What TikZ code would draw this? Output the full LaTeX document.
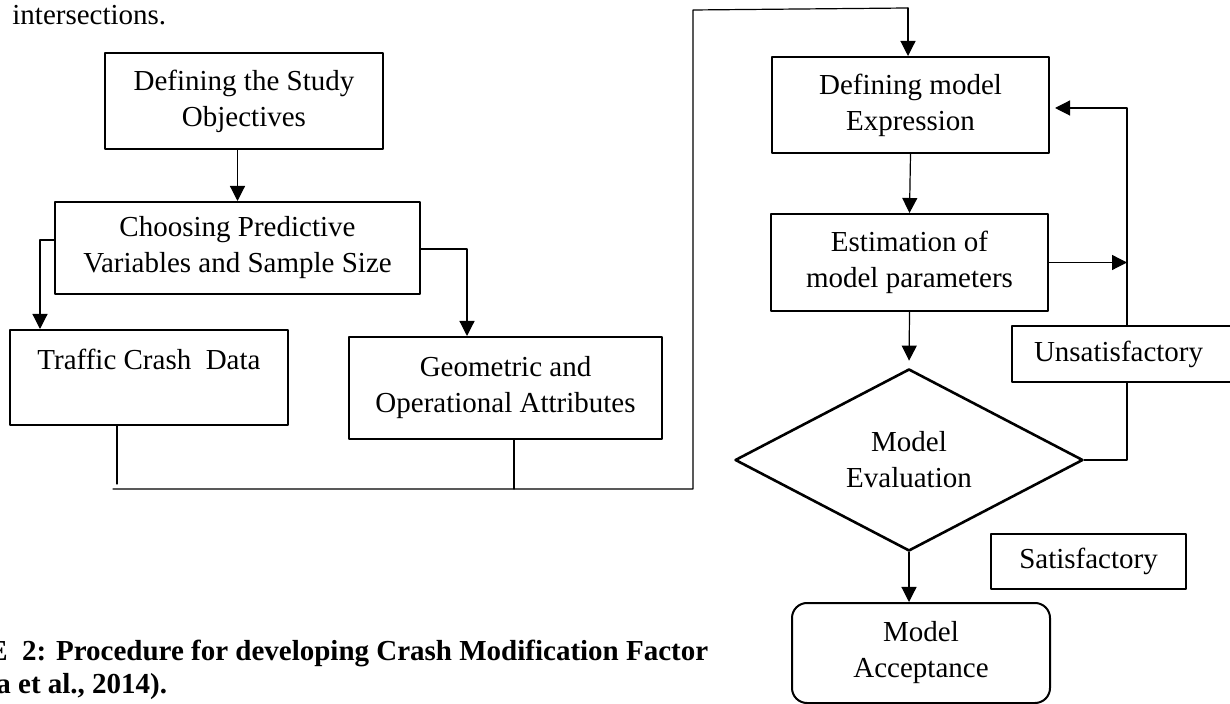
\documentclass[tikz,border=0pt]{standalone}
\usepackage{fontspec}
\setmainfont{Liberation Serif}
\usetikzlibrary{shapes.geometric,arrows.meta}

\begin{document}
\begin{tikzpicture}[x=0.5pt,y=-0.5pt,line cap=round,line join=round,
  every node/.style={inner sep=0pt,font=\fontsize{14.5pt}{18pt}\selectfont},
  stepbox/.style={draw,line width=1pt,align=center},
  link/.style={line width=0.6pt},
  arr/.style={link,-{Triangle[length=7.5pt,width=7.5pt]}},
  captext/.style={anchor=base west,font=\fontsize{14.5pt}{16.5pt}\selectfont\bfseries}]
  \useasboundingbox (0,0) rectangle (1230,704);
  \clip (0,0) rectangle (1230,704);
  \node[anchor=base west] (intro) at (12,25) {intersections.};
  % left column
  \node[stepbox,minimum width=139pt,minimum height=48pt] (obj) at (244,101) {Defining the Study\\Objectives};
  \node[stepbox,minimum width=182.5pt,minimum height=46pt] (choose) at (237.5,248) {Choosing Predictive\\Variables and Sample Size};
  \node[stepbox,minimum width=139pt,minimum height=47.5pt] (crash) at (149,377.5) {Traffic Crash\ \ Data\\\mbox{}};
  \node[stepbox,minimum width=156.5pt,minimum height=51pt] (geom) at (505.5,388) {Geometric and\\Operational Attributes};
  % right column
  \node[stepbox,minimum width=138.5pt,minimum height=48pt] (expr) at (910.5,105) {Defining model\\Expression};
  \node[stepbox,minimum width=138.5pt,minimum height=48.5pt] (estim) at (909.5,262.5) {Estimation of\\model parameters};
  \node[stepbox,diamond,line width=1.3pt,minimum width=174pt,minimum height=87pt] (eval) at (909,460) {Model\\Evaluation};
  \node[stepbox,anchor=west,text width=98pt,inner xsep=11pt,align=left,minimum height=28pt] (unsat) at (1011,354) {Unsatisfactory};
  \node[stepbox,minimum width=97.5pt,minimum height=27.5pt] (satis) at (1088.5,561.5) {Satisfactory};
  \node[stepbox,rounded corners=7.5pt,minimum width=129pt,minimum height=50pt] (accept) at (921,653) {Model\\Acceptance};
  % caption
  \node[captext] (cap1) at (-12,660) {E\ \ 2: Procedure for developing Crash Modification Factor};
  \node[captext] (cap2) at (-4,693) {a et al., 2014).};
  % connectors
  \coordinate (cl) at (40,240);
  \coordinate (cr) at (467,249);
  \coordinate (cb) at (117,484);
  \coordinate (gb) at (514,489);
  \coordinate (jl) at (113,489);
  \coordinate (jr) at (693,489);
  \coordinate (jt) at (693,10);
  \coordinate (jx) at (908,8);
  \coordinate (fb) at (1127,108);
  \draw[arr] (obj.south -| choose.north) -- (choose.north);
  \draw[arr] (choose.west |- cl) -- (cl) -- (cl |- crash.north);
  \draw[arr] (choose.east |- cr) -- (cr) -- (cr |- geom.north);
  \draw[link] (crash.south -| cb) -- (cb);
  \draw[link] (geom.south -| gb) -- (gb);
  \draw[link] (jl) -- (jr) -- (jt) -- (jx);
  \draw[arr] (jx) -- (jx |- expr.north);
  \draw[arr] (expr.south) -- (estim.north);
  \draw[arr] (estim.east) -- (estim.east -| fb);
  \draw[arr,shorten >=2.5pt] (unsat.north -| fb) -- (fb) -- (fb -| expr.east);
  \draw[link] (eval.east) -- (eval.east -| fb) -- (unsat.south -| fb);
  \draw[arr,shorten >=3.5pt] (estim.south) -- (eval.north);
  \draw[arr] (eval.south) -- (eval.south |- accept.north);
\end{tikzpicture}
\end{document}
